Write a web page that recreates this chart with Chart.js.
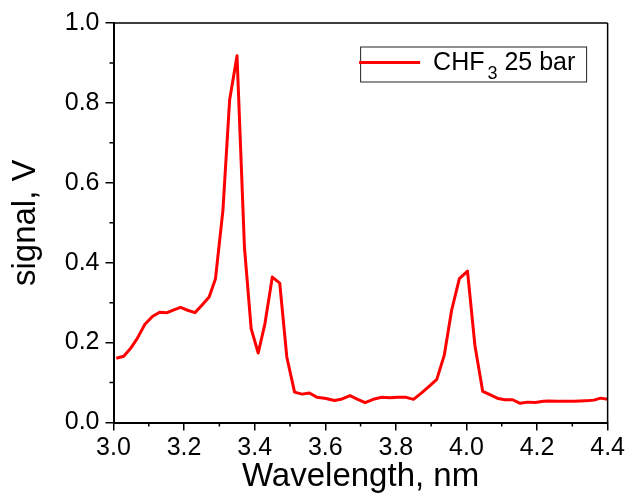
<!DOCTYPE html>
<html>
<head>
<meta charset="utf-8">
<script src="https://cdn.jsdelivr.net/npm/chart.js@4"></script>
<style>
  html, body { margin: 0; padding: 0; background: #fff; }
  #wrap { width: 627px; height: 498px; }
</style>
</head>
<body>
<div id="wrap"><canvas id="mychart" width="627" height="498"></canvas></div>
<script>
// spectrum
var wavelength = [3.008, 3.029, 3.048, 3.067, 3.089, 3.111, 3.131, 3.152, 3.171, 3.190,
  3.210, 3.231, 3.251, 3.271, 3.289, 3.310, 3.329, 3.350, 3.371, 3.390,
  3.410, 3.429, 3.450, 3.471, 3.491, 3.513, 3.534, 3.555, 3.577, 3.602,
  3.626, 3.648, 3.670, 3.692, 3.713, 3.736, 3.760, 3.783, 3.807, 3.829,
  3.850, 3.873, 3.895, 3.916, 3.937, 3.958, 3.980, 4.003, 4.024, 4.046,
  4.068, 4.090, 4.109, 4.131, 4.152, 4.173, 4.195, 4.218, 4.233, 4.257,
  4.280, 4.304, 4.323, 4.347, 4.361, 4.380, 4.400];
var signal = [0.161, 0.166, 0.185, 0.210, 0.246, 0.266, 0.276, 0.275, 0.282, 0.288,
  0.281, 0.275, 0.294, 0.314, 0.360, 0.531, 0.807, 0.918, 0.439, 0.235,
  0.174, 0.247, 0.364, 0.349, 0.164, 0.076, 0.071, 0.074, 0.063, 0.060,
  0.055, 0.059, 0.067, 0.058, 0.050, 0.058, 0.063, 0.062, 0.063, 0.063,
  0.058, 0.074, 0.091, 0.108, 0.168, 0.281, 0.360, 0.379, 0.193, 0.078,
  0.069, 0.060, 0.057, 0.057, 0.048, 0.051, 0.050, 0.053, 0.054, 0.053,
  0.053, 0.053, 0.054, 0.055, 0.056, 0.061, 0.058];
var seriesName = ["CHF", "3", " 25 bar"];   // CHF3 with subscript
var xTicks = [3.0, 3.2, 3.4, 3.6, 3.8, 4.0, 4.2, 4.4];
var yTicks = [0.0, 0.2, 0.4, 0.6, 0.8, 1.0];

var FONT = "'Liberation Sans', Arial, sans-serif";

var points = wavelength.map(function (w, i) { return { x: w, y: signal[i] }; });

// frame, minor ticks and the boxed legend
var extras = {
  id: "extras",
  afterDraw: function (chart) {
    var ctx = chart.ctx, a = chart.chartArea;
    var xs = chart.scales.x, ys = chart.scales.y;
    ctx.save();
    ctx.strokeStyle = "#000";
    ctx.lineWidth = 1.5;
    ctx.beginPath();
    ctx.moveTo(a.left, a.top); ctx.lineTo(a.right, a.top);
    ctx.moveTo(a.right, a.top); ctx.lineTo(a.right, a.bottom);
    // minor ticks
    for (var i = 0; i < xTicks.length - 1; i++) {
      var px = xs.getPixelForValue((xTicks[i] + xTicks[i + 1]) / 2);
      ctx.moveTo(px, a.bottom); ctx.lineTo(px, a.bottom + 4);
    }
    for (var j = 0; j < yTicks.length - 1; j++) {
      var py = ys.getPixelForValue((yTicks[j] + yTicks[j + 1]) / 2);
      ctx.moveTo(a.left, py); ctx.lineTo(a.left - 4, py);
    }
    ctx.stroke();

    // legend
    var bx = a.right - 247.5, by = a.top + 23.5;
    ctx.lineWidth = 1;
    ctx.strokeStyle = "#222";
    ctx.strokeRect(bx + 0.5, by + 0.5, 226, 35);
    ctx.strokeStyle = "#ff0000";
    ctx.lineWidth = 3;
    ctx.beginPath();
    ctx.moveTo(bx - 1, by + 16); ctx.lineTo(bx + 60, by + 16);
    ctx.stroke();
    ctx.fillStyle = "#000";
    ctx.textBaseline = "alphabetic";
    ctx.textAlign = "left";
    var tx = bx + 73, base = by + 23.3;
    ctx.font = "25px " + FONT;
    ctx.fillText(seriesName[0], tx, base);
    tx += ctx.measureText(seriesName[0]).width + 3;
    ctx.font = "18px " + FONT;
    ctx.fillText(seriesName[1], tx, base + 8.7);
    tx += ctx.measureText(seriesName[1]).width;
    ctx.font = "25px " + FONT;
    ctx.fillText(seriesName[2], tx, base);
    ctx.restore();
  }
};

var mychart = new Chart("mychart", {
  type: "line",
  data: {
    datasets: [{
      label: seriesName.join(""),
      data: points,
      borderColor: "#ff0000",
      borderWidth: 3,
      borderJoinStyle: "round",
      pointRadius: 0,
      tension: 0,
      fill: false
    }]
  },
  options: {
    responsive: false,
    animation: false,
    layout: { padding: { top: 23, right: 19, left: 0, bottom: 0 } },
    plugins: {
      legend: { display: false },
      tooltip: { enabled: false }
    },
    scales: {
      x: {
        type: "linear",
        min: 3.0,
        max: 4.4,
        afterFit: function (s) { s.height = 75.5; },
        afterBuildTicks: function (s) { s.ticks = xTicks.map(function (v) { return { value: v }; }); },
        ticks: {
          color: "#000",
          font: { family: FONT, size: 25, lineHeight: 1.28 },
          padding: 2,
          maxRotation: 0,
          autoSkip: false,
          callback: function (v) { return Number(v).toFixed(1); }
        },
        grid: { drawOnChartArea: false, drawTicks: true, tickLength: 8, color: "#000", lineWidth: 1.5 },
        border: { display: true, color: "#000", width: 2 },
        title: {
          display: true,
          text: "Wavelength, nm",
          color: "#000",
          font: { family: FONT, size: 33 },
          padding: { top: 0, bottom: 1 }
        }
      },
      y: {
        min: 0,
        max: 1.0,
        afterFit: function (s) { s.width = 113.5; },
        afterBuildTicks: function (s) { s.ticks = yTicks.map(function (v) { return { value: v }; }); },
        ticks: {
          color: "#000",
          font: { family: FONT, size: 25 },
          padding: 6,
          callback: function (v) { return Number(v).toFixed(1); }
        },
        grid: { drawOnChartArea: false, drawTicks: true, tickLength: 8, color: "#000", lineWidth: 1.5 },
        border: { display: true, color: "#000", width: 2 },
        title: {
          display: true,
          text: "signal, V",
          color: "#000",
          font: { family: FONT, size: 33 },
          padding: { top: 6, bottom: 0 }
        }
      }
    }
  },
  plugins: [extras]
});
</script>
</body>
</html>
